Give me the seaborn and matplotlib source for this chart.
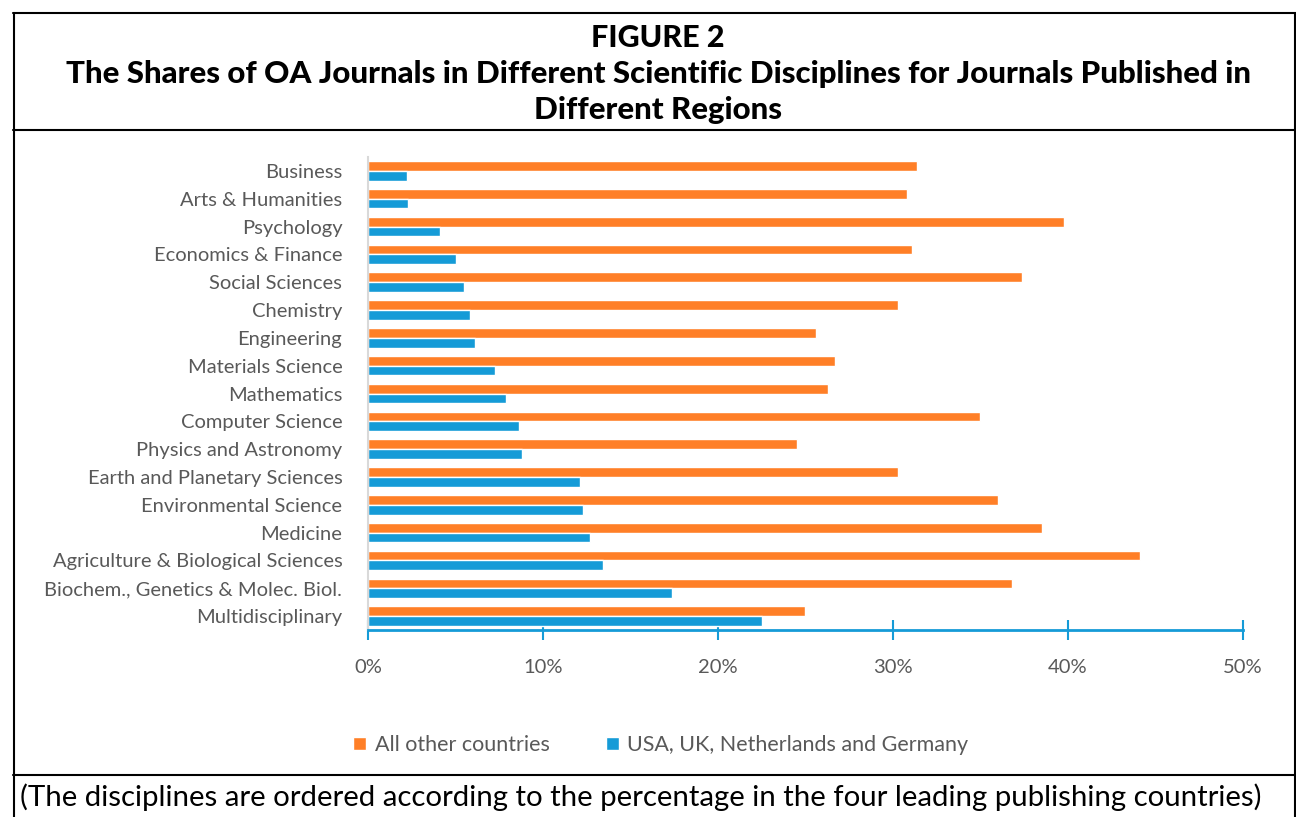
import numpy as np
import pandas as pd
import seaborn as sns
import matplotlib.pyplot as plt
from matplotlib.lines import Line2D

# disciplines, top to bottom as in the figure
disciplines = ["Business", "Arts & Humanities", "Psychology", "Economics & Finance",
               "Social Sciences", "Chemistry", "Engineering", "Materials Science",
               "Mathematics", "Computer Science", "Physics and Astronomy",
               "Earth and Planetary Sciences", "Environmental Science", "Medicine",
               "Agriculture & Biological Sciences", "Biochem., Genetics & Molec. Biol.",
               "Multidisciplinary"]
# share of OA journals (%)
other_countries = [31.4, 30.8, 39.8, 31.1, 37.4, 30.3, 25.6, 26.7, 26.3, 35.0,
                   24.5, 30.3, 36.0, 38.5, 44.1, 36.8, 25.0]
leading_countries = [2.2, 2.3, 4.1, 5.0, 5.5, 5.85, 6.1, 7.25, 7.9, 8.6,
                     8.8, 12.1, 12.3, 12.7, 13.4, 17.4, 22.5]
series_names = ["All other countries", "USA, UK, Netherlands and Germany"]
x_ticks = [0, 10, 20, 30, 40, 50]

df = pd.DataFrame({
    "discipline": disciplines * 2,
    "share": other_countries + leading_countries,
    "region": [series_names[0]] * len(disciplines) + [series_names[1]] * len(disciplines),
})

orange = "#FF7F27"
blue = "#159BD7"
grey = "#595959"

sns.set_style("white")
plt.rcParams["font.family"] = ["Lato", "DejaVu Sans"]

fig = plt.figure(figsize=(12.96, 8.17), dpi=100)
ax = fig.add_axes([368 / 1296, 1 - 630 / 817, 875 / 1296, 473 / 817])

sns.barplot(data=df, y="discipline", x="share", hue="region", order=disciplines,
            hue_order=series_names, palette=[orange, blue], width=0.7,
            orient="h", ax=ax, saturation=1)

ax.set_xlim(0, 50)
ax.set_xticks(x_ticks)
ax.set_xticklabels([f"{t}%" for t in x_ticks])
ax.set_xlabel("")
ax.set_ylabel("")
ax.tick_params(axis="x", bottom=True, colors=blue, direction="inout", length=14,
               width=1.5, labelcolor=grey, labelsize=14.5, pad=14)
ax.tick_params(axis="y", left=False, labelcolor=grey, labelsize=14.5, pad=15)
for side in ["top", "right"]:
    ax.spines[side].set_visible(False)
ax.spines["bottom"].set_color(blue)
ax.spines["bottom"].set_linewidth(2)
ax.spines["left"].set_color("#D9D9D9")
ax.spines["left"].set_linewidth(1.5)

handles, labels = ax.get_legend_handles_labels()
ax.legend_.remove()
fig.legend(handles, labels, loc="center", bbox_to_anchor=(661 / 1296, 1 - 745 / 817),
           ncol=2, frameon=False, handlelength=0.6, handleheight=0.6,
           handletextpad=0.4, columnspacing=2.6, fontsize=15.5, labelcolor=grey)

# box around the figure
def hline(y, x0=13, x1=1296, lw=1.5):
    fig.add_artist(Line2D([x0 / 1296, x1 / 1296], [1 - y / 817, 1 - y / 817],
                          color="black", lw=lw, transform=fig.transFigure))

def vline(x, y0=13, y1=817, lw=1.5):
    fig.add_artist(Line2D([x / 1296, x / 1296], [1 - y0 / 817, 1 - y1 / 817],
                          color="black", lw=lw, transform=fig.transFigure))

hline(13)
hline(130)
hline(775)
vline(14)
vline(1295)

fig.text(658 / 1296, 1 - 38 / 817, "FIGURE 2", ha="center", va="center",
         fontsize=22, fontweight="black", color="black")
fig.text(658 / 1296, 1 - 74 / 817,
         "The Shares of OA Journals in Different Scientific Disciplines for Journals Published in",
         ha="center", va="center", fontsize=22.5, fontweight="black", color="black")
fig.text(658 / 1296, 1 - 110 / 817, "Different Regions", ha="center", va="center",
         fontsize=22.5, fontweight="black", color="black")
fig.text(20 / 1296, 1 - 797 / 817,
         "(The disciplines are ordered according to the percentage in the four leading publishing countries)",
         ha="left", va="center", fontsize=21.2, color="black")

fig.savefig("out.png", dpi=100)
